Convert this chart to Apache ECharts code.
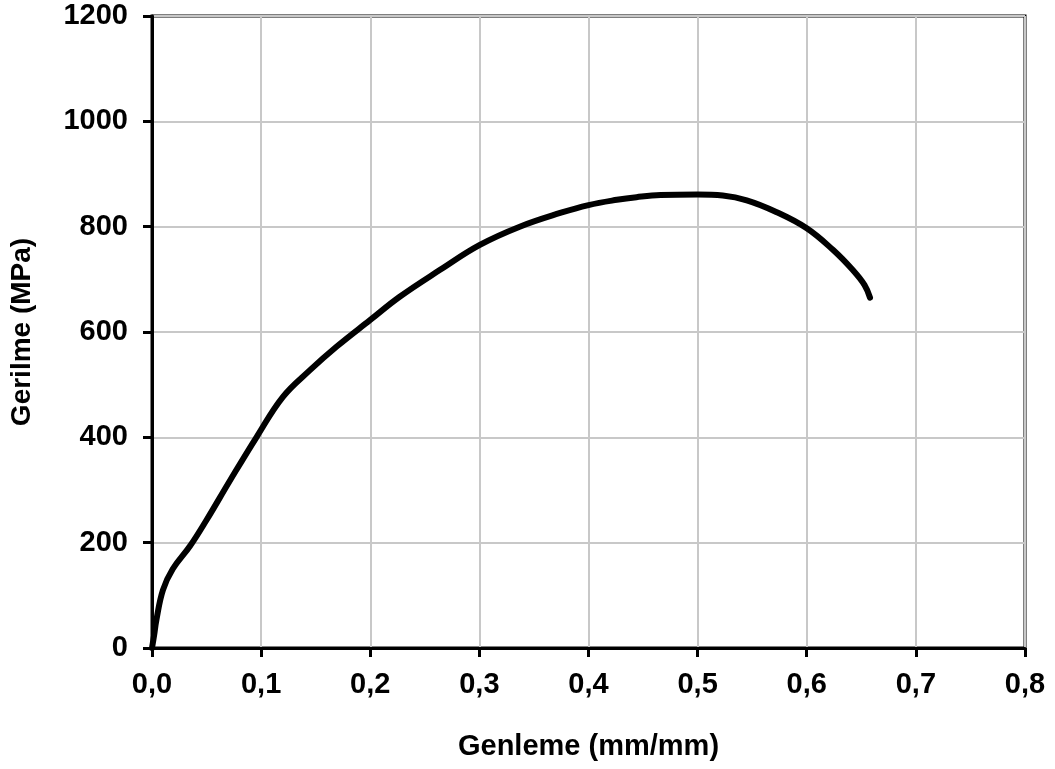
<!DOCTYPE html>
<html>
<head>
<meta charset="utf-8">
<script src="https://cdn.jsdelivr.net/npm/echarts@6/dist/echarts.min.js"></script>
<style>
  html, body { margin: 0; padding: 0; background: #fff; }
  #chart { width: 1055px; height: 769px; }
</style>
</head>
<body>
<div id="chart"></div>
<script>
// gerilme-genleme verisi
const strain = [0, 0.002, 0.004, 0.010, 0.019, 0.035, 0.050, 0.0715, 0.096, 0.120, 0.145, 0.169, 0.2, 0.227, 0.264, 0.3, 0.337, 0.374, 0.4, 0.426, 0.444, 0.466, 0.5, 0.523, 0.545, 0.572, 0.6, 0.624, 0.642, 0.653, 0.658];
const stress = [0, 25, 53, 110, 150, 194, 243, 318, 401, 477, 528, 572, 623, 667, 718, 765, 800, 826, 841, 851, 856, 860, 861, 859, 850, 828, 797, 756, 718, 689, 665];

const xTicks = { min: 0, max: 0.8, interval: 0.1 };
const yTicks = { min: 0, max: 1200, interval: 200 };

const font = '"Liberation Sans", Arial, sans-serif';

const myChart = echarts.init(document.getElementById('chart'));
myChart.setOption({
  backgroundColor: '#fff',
  animation: false,
  grid: {
    left: 152,
    right: 30,
    top: 16,
    bottom: 121,
    show: true,
    borderColor: '#000',
    borderWidth: 3
  },
  xAxis: {
    type: 'value',
    min: xTicks.min,
    max: xTicks.max,
    interval: xTicks.interval,
    name: 'Genleme (mm/mm)',
    nameLocation: 'middle',
    nameGap: 84,
    nameTextStyle: { fontFamily: font, fontWeight: 'bold', fontSize: 29, color: '#000' },
    axisLine: { show: true, onZero: false, lineStyle: { color: '#000', width: 3 } },
    axisTick: { show: true, length: 9, lineStyle: { color: '#000', width: 3 } },
    axisLabel: {
      margin: 22,
      fontFamily: font, fontWeight: 'bold', fontSize: 29, color: '#000',
      formatter: function (v) { return v.toFixed(1).replace('.', ','); }
    },
    splitLine: { show: true, lineStyle: { color: '#c8c8c8', width: 2 } }
  },
  yAxis: {
    type: 'value',
    min: yTicks.min,
    max: yTicks.max,
    interval: yTicks.interval,
    name: 'Gerilme (MPa)',
    nameLocation: 'middle',
    nameGap: 116,
    nameTextStyle: { fontFamily: font, fontWeight: 'bold', fontSize: 28, color: '#000' },
    axisLine: { show: true, lineStyle: { color: '#000', width: 3 } },
    axisTick: { show: true, length: 9, lineStyle: { color: '#000', width: 3 } },
    axisLabel: {
      margin: 24,
      fontFamily: font, fontWeight: 'bold', fontSize: 29, color: '#000',
      formatter: function (v) { return String(v); }
    },
    splitLine: { show: true, lineStyle: { color: '#c8c8c8', width: 2 } }
  },
  series: [
    {
      type: 'line',
      data: strain.map((x, i) => [x, stress[i]]),
      smooth: 0.4,
      showSymbol: false,
      lineStyle: { color: '#000', width: 6, cap: 'round', join: 'round' }
    }
  ]
});
window.onresize = function () {
  myChart.resize();
};
</script>
</body>
</html>
